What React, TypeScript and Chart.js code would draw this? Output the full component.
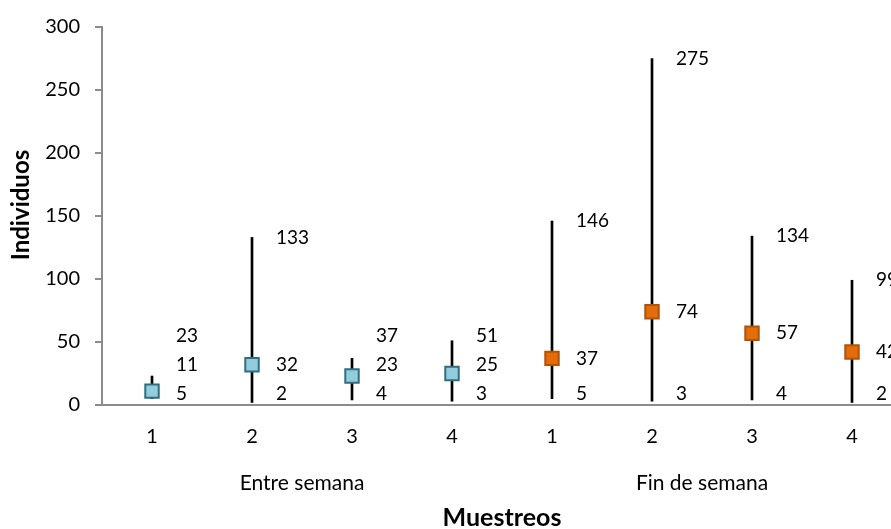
import React, { useEffect, useRef } from "react";
import { Chart, registerables } from "chart.js";

Chart.register(...registerables);

// ---- data ----
const categories = ["1", "2", "3", "4", "1", "2", "3", "4"];
const groups = ["Entre semana", "Fin de semana"];
const groupSize = 4;
const highValues = [23, 133, 37, 51, 146, 275, 134, 99];
const lowValues = [5, 2, 4, 3, 5, 3, 4, 2];
const meanValues = [11, 32, 23, 25, 37, 74, 57, 42];
const yMin = 0;
const yMax = 300;
const yStep = 50;
const xTitle = "Muestreos";
const yTitle = "Individuos";

const FONT = "Lato";
const blueFill = "#93CDDD";
const blueBorder = "#2F6E7E";
const orangeFill = "#E46C0A";
const orangeBorder = "#B0530A";

const labelsPlugin = {
  id: "hlLabels",
  afterDatasetsDraw(chart: any) {
    const { ctx, chartArea } = chart;
    const x = chart.scales.x;
    const y = chart.scales.y;
    ctx.save();
    ctx.fillStyle = "#000";
    ctx.textAlign = "left";
    ctx.textBaseline = "middle";
    ctx.font = `19px ${FONT}`;
    categories.forEach((_, i) => {
      const px = x.getPixelForValue(i);
      const vals = [lowValues[i], meanValues[i], highValues[i]].sort((a, b) => a - b);
      let prev = Infinity;
      vals.forEach((v) => {
        const py = Math.min(y.getPixelForValue(v), chartArea.bottom - 11, prev - 29);
        ctx.fillText(String(v), px + 24, py);
        prev = py;
      });
    });
    ctx.font = `21px ${FONT}`;
    ctx.textAlign = "center";
    groups.forEach((g, gi) => {
      const a = x.getPixelForValue(gi * groupSize);
      const b = x.getPixelForValue(gi * groupSize + groupSize - 1);
      ctx.fillText(g, (a + b) / 2, chartArea.bottom + 78);
    });
    // y axis title, centred slightly above the plot centre as in the reference
    ctx.font = `bold 24px ${FONT}`;
    ctx.translate(21, (chartArea.top + chartArea.bottom) / 2 - 11);
    ctx.rotate(-Math.PI / 2);
    ctx.fillText(yTitle, 0, 0);
    ctx.restore();
  },
};

export default function App() {
  const ref = useRef<HTMLCanvasElement | null>(null);
  useEffect(() => {
    if (!ref.current) return;
    Chart.defaults.font.family = FONT;
    const chart = new Chart(ref.current, {
      type: "bar",
      data: {
        labels: categories,
        datasets: [
          {
            type: "line",
            label: "Media",
            data: meanValues,
            showLine: false,
            pointStyle: "rect",
            pointRadius: 9.5,
            pointHoverRadius: 9.5,
            pointBorderWidth: 2,
            pointBackgroundColor: meanValues.map((_, i) => (i < groupSize ? blueFill : orangeFill)),
            pointBorderColor: meanValues.map((_, i) => (i < groupSize ? blueBorder : orangeBorder)),
            order: 0,
          } as any,
          {
            type: "bar",
            label: "Rango",
            data: lowValues.map((l, i) => [l, highValues[i]]),
            backgroundColor: "#000",
            borderWidth: 0,
            barThickness: 2,
            order: 1,
          } as any,
        ],
      },
      options: {
        responsive: false,
        devicePixelRatio: 1,
        animation: false,
        layout: { padding: { top: 22, right: 28, bottom: 0, left: 0 } },
        plugins: {
          legend: { display: false },
          tooltip: { enabled: false },
        },
        scales: {
          x: {
            type: "category",
            offset: true,
            grid: { display: false, drawTicks: false },
            border: { display: true, color: "#8C8C8C", width: 2 },
            ticks: { color: "#000", font: { size: 20, family: FONT }, padding: 20, maxRotation: 0 },
            title: {
              display: true,
              text: xTitle,
              color: "#000",
              font: { size: 25, weight: "bold", family: FONT },
              padding: { top: 0, bottom: -4 },
            },
            afterFit: (scale: any) => {
              scale.height = 124;
            },
          },
          y: {
            min: yMin,
            max: yMax,
            ticks: { stepSize: yStep, color: "#000", font: { size: 20, family: FONT }, padding: 15 },
            grid: { drawOnChartArea: false, drawTicks: true, tickLength: 7, color: "#8C8C8C", lineWidth: 2 },
            border: { display: true, color: "#8C8C8C", width: 2 },
            title: { display: false },
            afterFit: (scale: any) => {
              scale.width = 102;
            },
          },
        },
      },
      plugins: [labelsPlugin],
    });
    return () => chart.destroy();
  }, []);

  return (
    <div
      style={{
        position: "fixed",
        left: 0,
        top: 0,
        width: 891,
        height: 529,
        overflow: "hidden",
        background: "#fff",
      }}
    >
      <canvas ref={ref} width={930} height={529} style={{ width: 930, height: 529, display: "block" }} />
    </div>
  );
}
